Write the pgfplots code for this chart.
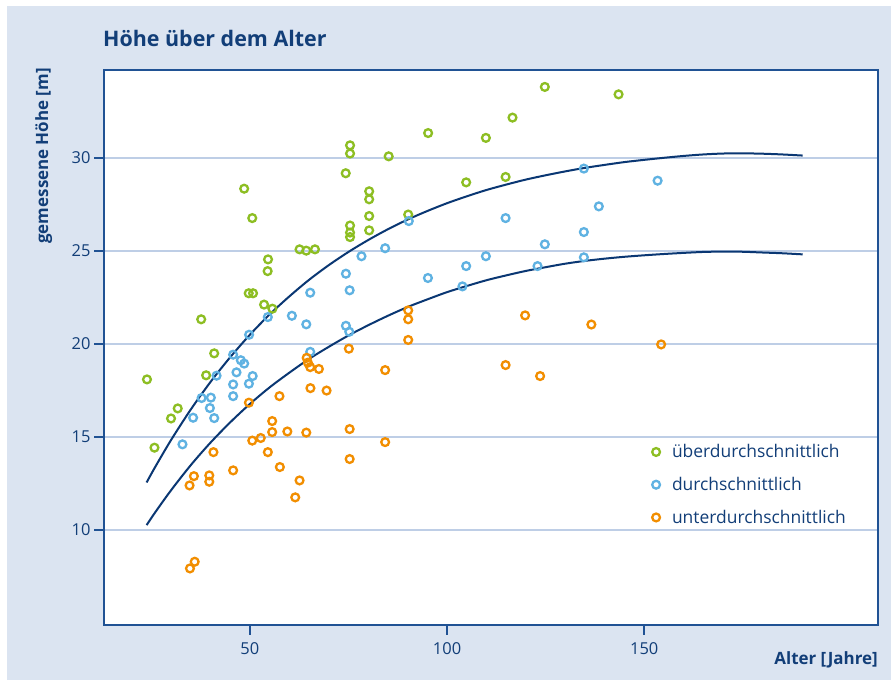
\documentclass[border=0pt]{standalone}
\usepackage{fontspec}
\setmainfont{Open Sans}
\usepackage{pgfplots}
\pgfplotsset{compat=1.18}
\definecolor{bg}{RGB}{219,228,241}
\definecolor{txt}{RGB}{18,62,120}
\definecolor{axc}{RGB}{32,82,148}
\definecolor{gridc}{RGB}{190,206,230}
\definecolor{cgreen}{RGB}{141,190,35}
\definecolor{cblue}{RGB}{95,178,226}
\definecolor{corange}{RGB}{242,142,0}
\definecolor{curvec}{RGB}{10,55,115}

\pgfplotstableread{
x y
23.9 18.10
25.8 14.43
30.0 16.00
31.7 16.54
37.65 21.33
38.9 18.32
40.95 19.50
48.55 28.35
50.6 26.77
49.7 22.73
50.8 22.73
53.6 22.12
55.7 21.90
54.6 24.55
54.5 23.92
62.6 25.09
64.3 25.02
66.5 25.09
74.3 29.18
75.4 30.68
75.4 30.24
75.4 26.37
75.4 25.99
75.4 25.75
80.25 28.21
80.25 27.78
80.25 26.88
80.25 26.11
85.2 30.09
90.15 26.96
95.2 31.34
104.85 28.69
109.85 31.08
114.85 28.98
116.6 32.17
124.8 33.82
143.5 33.42
}\tabgreen

\pgfplotstableread{
x y
32.9 14.61
35.6 16.04
37.75 17.10
39.85 16.56
40.1 17.12
40.95 16.02
41.55 18.30
45.75 19.43
45.75 17.83
45.75 17.20
46.6 18.48
47.7 19.13
48.55 18.95
49.75 17.87
50.7 18.28
49.8 20.50
54.55 21.45
60.65 21.52
64.3 21.06
65.3 22.76
65.3 19.58
74.35 23.78
75.3 22.89
74.35 20.98
75.2 20.66
78.3 24.72
84.3 25.15
90.3 26.61
95.15 23.55
103.9 23.10
104.85 24.19
109.85 24.72
114.85 26.77
122.95 24.19
124.8 25.36
134.7 29.43
134.7 26.02
134.7 24.66
138.5 27.40
153.4 28.78
}\tabblue

\pgfplotstableread{
x y
34.8 7.94
36.0 8.30
34.7 12.40
35.8 12.90
39.7 12.94
39.7 12.60
40.75 14.19
45.75 13.21
49.75 16.85
50.6 14.81
52.75 14.95
54.55 14.19
55.65 15.86
55.65 15.27
57.5 17.20
57.6 13.39
59.5 15.30
61.5 11.76
62.6 12.67
64.3 15.24
64.4 19.26
64.7 19.00
65.3 18.76
67.5 18.66
65.35 17.63
69.45 17.50
75.1 19.75
75.3 15.43
75.3 13.82
84.3 18.60
84.3 14.73
90.15 21.81
90.15 21.33
90.15 20.22
114.85 18.87
119.8 21.54
123.6 18.28
136.6 21.05
154.3 19.98
}\taborange

\pgfplotstableread{
x y
23.8 12.56
26 13.40
30 14.84
35 16.48
40 17.96
45 19.29
50 20.50
55 21.59
60 22.56
65 23.45
70 24.24
75 24.95
80 25.59
85 26.17
90 26.69
95 27.15
100 27.57
105 27.94
110 28.28
115 28.57
120 28.84
125 29.07
130 29.28
135 29.47
140 29.63
145 29.78
150 29.90
155 30.01
160 30.11
165 30.19
170 30.24
175 30.25
180 30.23
185 30.19
190.2 30.13
}\tabupper

\pgfplotstableread{
x y
23.8 10.27
26 10.96
30 12.14
35 13.49
40 14.70
45 15.79
50 16.78
55 17.67
60 18.46
65 19.20
70 19.85
75 20.46
80 21.01
85 21.52
90 21.99
95 22.40
100 22.79
105 23.12
110 23.43
115 23.69
120 23.93
125 24.13
130 24.32
135 24.47
140 24.59
145 24.69
150 24.77
155 24.84
160 24.90
165 24.95
170 24.97
175 24.96
180 24.92
185 24.88
190.2 24.82
}\tablower

\begin{document}
\begin{tikzpicture}[x=1bp,y=1bp]
\useasboundingbox (0,0) rectangle (891,680);
\fill[white] (0,0) rectangle (891,680);
\fill[bg] (7,0) rectangle (891,674);
\node[anchor=base west, font=\bfseries\fontsize{21.5}{26}\selectfont, text=txt, inner sep=0] at (103,633) {Höhe über dem Alter};
\node[anchor=base east, rotate=90, font=\bfseries\fontsize{17}{20}\selectfont, text=txt, inner sep=0] at (48,612) {gemessene Höhe [m]};
\node[anchor=base east, font=\bfseries\fontsize{17}{20}\selectfont, text=txt, inner sep=0] at (878,15) {Alter [Jahre]};
\begin{axis}[
  at={(104bp,55bp)}, anchor=south west,
  scale only axis, width=774bp, height=555bp,
  xmin=13, xmax=209.3, ymin=4.9, ymax=34.73,
  axis background/.style={fill=white},
  axis line style={draw=axc, line width=1.8bp},
  xtick={50,100,150}, ytick={10,15,20,25,30},
  tick pos=left, tick align=outside, major tick length=10bp,
  tick style={draw=axc, line width=1.5bp},
  ymajorgrids, grid style={draw=gridc, line width=1.5bp},
  ticklabel style={font=\fontsize{16.5}{20}\selectfont, text=txt},
  xticklabel style={yshift=-4bp},
  /pgf/number format/assume math mode=true,
  legend cell align=left,
  legend image code/.code={\draw[#1] plot coordinates {(0bp,0bp)};},
  legend style={draw=none, fill=none, inner sep=0pt, at={(0.708,0.329)}, anchor=north west,
    font=\fontsize{17.5}{20}\selectfont, text=txt, row sep=14bp,
    nodes={inner sep=2bp},
    /tikz/every odd column/.append style={column sep=10bp}},
]
\addplot[only marks, mark=o, mark size=3.9bp, draw=cgreen, mark options={line width=2.3bp}] table[x=x,y=y] {\tabgreen};
\addplot[only marks, mark=o, mark size=3.9bp, draw=cblue, mark options={line width=2.3bp}] table[x=x,y=y] {\tabblue};
\addplot[only marks, mark=o, mark size=3.9bp, draw=corange, mark options={line width=2.3bp}] table[x=x,y=y] {\taborange};
\addplot[curvec, line width=2bp, smooth, forget plot] table[x=x,y=y] {\tabupper};
\addplot[curvec, line width=2bp, smooth, forget plot] table[x=x,y=y] {\tablower};
\legend{überdurchschnittlich, durchschnittlich, unterdurchschnittlich}
\end{axis}
\end{tikzpicture}
\end{document}
